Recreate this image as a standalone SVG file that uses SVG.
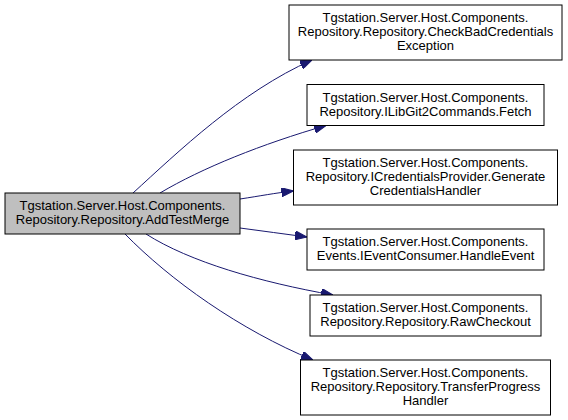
<svg xmlns="http://www.w3.org/2000/svg" width="568" height="420" viewBox="0 0 568 420">
<defs>
<style>
.n rect{fill:#ffffff;stroke:#000000;stroke-width:1}
.n.src rect{fill:#bfbfbf}
.n text{font-family:"Liberation Sans",Arial,sans-serif;font-size:13px;fill:#000000;text-anchor:middle}
.e path{fill:none;stroke:#191970;stroke-width:1}
</style>
<marker id="ah" viewBox="0 0 12 9" refX="12" refY="4.5" markerWidth="12" markerHeight="9" markerUnits="userSpaceOnUse" orient="auto">
<path d="M0,0 L12,4.5 L0,9 z" fill="#191970" stroke="#191970" stroke-width="1"/>
</marker>
</defs>
<rect width="568" height="420" fill="#ffffff"/>
<g id="edges" class="e">
<path marker-end="url(#ah)" d="M133,193 C178,152 240,92 312,60"/>
<path marker-end="url(#ah)" d="M160,193 C202,168 262,144 326,125.5"/>
<path marker-end="url(#ah)" d="M240,199 C260,196 275,193 293.5,191"/>
<path marker-end="url(#ah)" d="M240,228 C262,231 285,234 307,237"/>
<path marker-end="url(#ah)" d="M146,234 C190,262 260,282 333,295"/>
<path marker-end="url(#ah)" d="M125,234 C170,280 240,330 313,360"/>
</g>
<g id="node-source" class="n src">
<rect x="5" y="193" width="235" height="41"/>
<text x="122.5" y="210">Tgstation.Server.Host.Components.</text>
<text x="122.5" y="224">Repository.Repository.AddTestMerge</text>
</g>
<g id="node-checkbad" class="n">
<rect x="289" y="5" width="273" height="55"/>
<text x="425.5" y="22">Tgstation.Server.Host.Components.</text>
<text x="425.5" y="36">Repository.Repository.CheckBadCredentials</text>
<text x="425.5" y="50">Exception</text>
</g>
<g id="node-fetch" class="n">
<rect x="307" y="84.5" width="237" height="41"/>
<text x="425.5" y="101.5">Tgstation.Server.Host.Components.</text>
<text x="425.5" y="115.5">Repository.ILibGit2Commands.Fetch</text>
</g>
<g id="node-credentials" class="n">
<rect x="293.5" y="150" width="264" height="55"/>
<text x="425.5" y="167">Tgstation.Server.Host.Components.</text>
<text x="425.5" y="181">Repository.ICredentialsProvider.Generate</text>
<text x="425.5" y="195">CredentialsHandler</text>
</g>
<g id="node-handleevent" class="n">
<rect x="307" y="229" width="237" height="41"/>
<text x="425.5" y="246">Tgstation.Server.Host.Components.</text>
<text x="425.5" y="260">Events.IEventConsumer.HandleEvent</text>
</g>
<g id="node-rawcheckout" class="n">
<rect x="310" y="295" width="231" height="41"/>
<text x="425.5" y="312">Tgstation.Server.Host.Components.</text>
<text x="425.5" y="326">Repository.Repository.RawCheckout</text>
</g>
<g id="node-transfer" class="n">
<rect x="300.5" y="360" width="250" height="55"/>
<text x="425.5" y="377">Tgstation.Server.Host.Components.</text>
<text x="425.5" y="391">Repository.Repository.TransferProgress</text>
<text x="425.5" y="405">Handler</text>
</g>
</svg>
